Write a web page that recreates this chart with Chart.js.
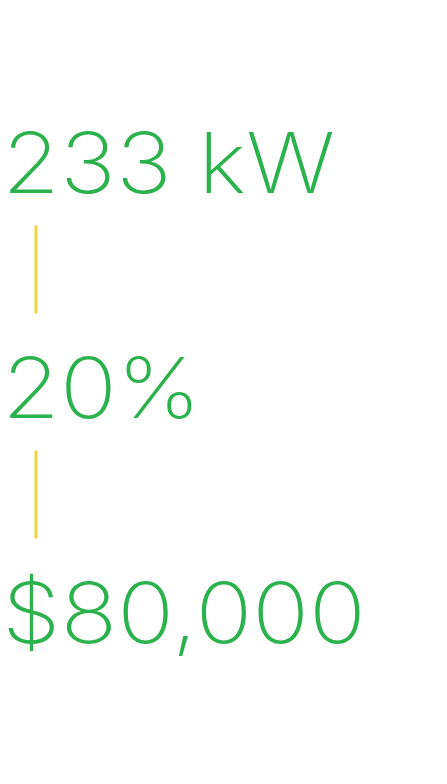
<!DOCTYPE html>
<html>
<head>
<meta charset="utf-8">
<script src="https://cdn.jsdelivr.net/npm/chart.js@4"></script>
<style>
  html, body { margin: 0; padding: 0; background: #fff; }
  #wrap { width: 447px; height: 784px; }
</style>
</head>
<body>
<div id="wrap"><canvas id="c"></canvas></div>
<script>
// figures shown, top to bottom
var labels = ['233 kW', '20%', '$80,000'];
// row index of each figure on the y scale
var rows = [0, 1, 2];
// separators sit between the figures
var separators = [0.5, 1.5];

var green = '#2bb24c';
var yellow = '#f5d142';

var statsText = {
    id: 'statsText',
    afterDatasetsDraw: function (chart) {
        var ctx = chart.ctx;
        var y = chart.scales.y;
        ctx.save();
        ctx.fillStyle = green;
        ctx.textBaseline = 'alphabetic';
        ctx.font = '200 84px Inter, "Open Sans", sans-serif';
        for (var i = 0; i < labels.length; i++) {
            ctx.save();
            ctx.translate(2, y.getPixelForValue(rows[i]) + 28);
            ctx.scale(1.12, 1);
            ctx.fillText(labels[i], 0, 0);
            ctx.restore();
        }
        ctx.strokeStyle = yellow;
        ctx.lineWidth = 3;
        for (var s = 0; s < separators.length; s++) {
            var py = y.getPixelForValue(separators[s]);
            ctx.beginPath();
            ctx.moveTo(36, py - 52);
            ctx.lineTo(36, py + 36);
            ctx.stroke();
        }
        ctx.restore();
    }
};

new Chart(document.getElementById('c'), {
    type: 'scatter',
    data: { datasets: [{ data: [] }] },
    options: {
        responsive: true,
        maintainAspectRatio: false,
        animation: false,
        layout: { padding: 0 },
        plugins: { legend: { display: false }, tooltip: { enabled: false } },
        scales: {
            x: { display: false, min: 0, max: 1 },
            y: { display: false, reverse: true, min: -0.733, max: 2.751 }
        }
    },
    plugins: [statsText]
});
</script>
</body>
</html>
